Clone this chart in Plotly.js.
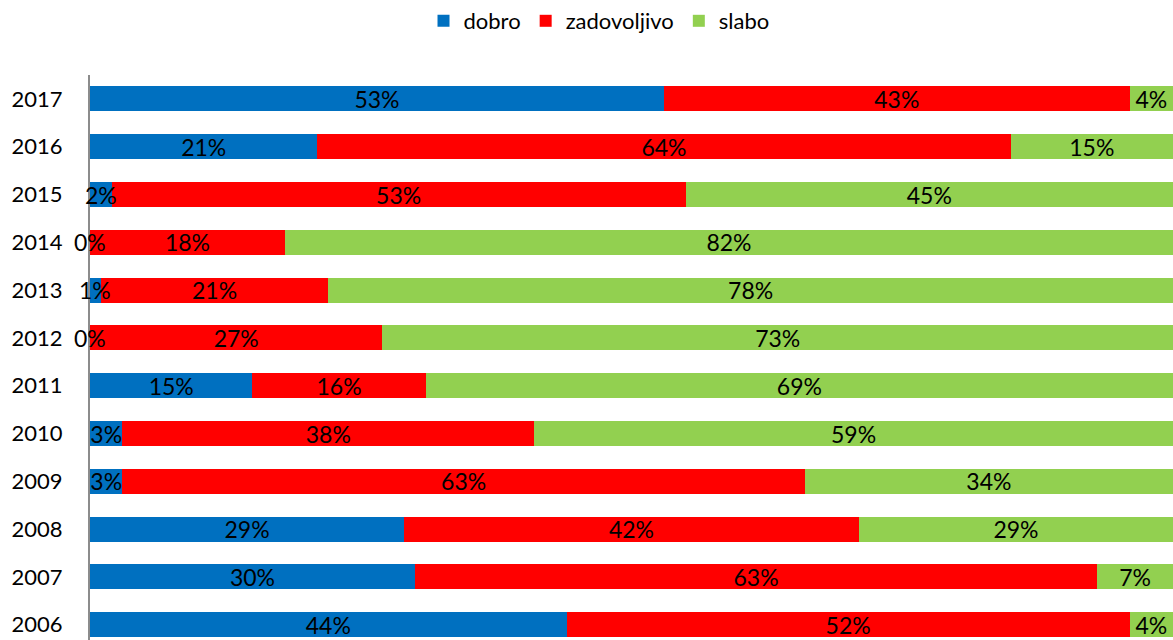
<!DOCTYPE html>
<html>
<head>
<meta charset="utf-8">
<script src="https://cdn.plot.ly/plotly-3.0.1.min.js"></script>
<style>html,body{margin:0;padding:0;background:#fff;}#chart{width:1173px;height:640px;}</style>
</head>
<body>
<div id="chart"></div>
<script>
const years = ['2006','2007','2008','2009','2010','2011','2012','2013','2014','2015','2016','2017'];
const dobro = [44, 30, 29, 3, 3, 15, 0, 1, 0, 2, 21, 53];
const zadovoljivo = [52, 63, 42, 63, 38, 16, 27, 21, 18, 53, 64, 43];
const slabo = [4, 7, 29, 34, 59, 69, 73, 78, 82, 45, 15, 4];
const seriesNames = ['dobro', 'zadovoljivo', 'slabo'];
const colors = ['#0070C0', '#FF0000', '#92D050'];

const FONT = 'Lato, "Open Sans", sans-serif';
const LABEL_SIZE = 23;
const SMALL = 3; // segments narrower than this get their label as an annotation
const series = [dobro, zadovoljivo, slabo];

const traces = series.map((vals, i) => ({
  type: 'bar',
  orientation: 'h',
  name: seriesNames[i],
  y: years,
  x: vals,
  marker: {color: colors[i], line: {width: 0}},
  text: vals.map(v => (v < SMALL ? '' : v + '%')),
  textposition: 'inside',
  insidetextanchor: 'middle',
  textangle: 0,
  textfont: {family: FONT, size: LABEL_SIZE, color: '#000'},
  cliponaxis: false,
  hoverinfo: 'none'
}));

// labels for very narrow / zero-width segments, drawn unclipped
const annotations = [];
series.forEach((vals, i) => {
  vals.forEach((v, j) => {
    if (v < SMALL) {
      let start = 0;
      for (let k = 0; k < i; k++) start += series[k][j];
      annotations.push({
        x: start + v / 2, y: j, xref: 'x', yref: 'y',
        text: v + '%', showarrow: false,
        font: {family: FONT, size: LABEL_SIZE, color: '#000'},
        xanchor: 'center', yanchor: 'middle'
      });
    }
  });
});

const layout = {
  width: 1173, height: 640,
  margin: {l: 90, r: 0, t: 75, b: 0, pad: 0},
  barmode: 'stack',
  bargap: 0.48,
  paper_bgcolor: '#fff', plot_bgcolor: '#fff',
  font: {family: FONT, size: 22, color: '#000'},
  uniformtext: {mode: 'show', minsize: LABEL_SIZE},
  showlegend: true,
  legend: {
    orientation: 'h', x: 0.47, xanchor: 'center',
    yref: 'container', y: 1, yanchor: 'top',
    traceorder: 'normal', itemwidth: 30,
    font: {family: FONT, size: 22, color: '#000'}
  },
  xaxis: {
    range: [0, 100], showgrid: false, zeroline: false, showline: false,
    showticklabels: false, ticks: ''
  },
  yaxis: {
    type: 'category', categoryorder: 'array', categoryarray: years,
    range: [-0.32, 11.5],
    showgrid: false, zeroline: false,
    showline: true, linecolor: '#8c8c8c', linewidth: 2,
    ticks: 'outside', ticklen: 21, tickcolor: 'rgba(0,0,0,0)',
    tickfont: {family: FONT, size: 22, color: '#000'}
  },
  annotations: annotations
};

Plotly.newPlot('chart', traces, layout, {staticPlot: true, displayModeBar: false});
</script>
</body>
</html>
